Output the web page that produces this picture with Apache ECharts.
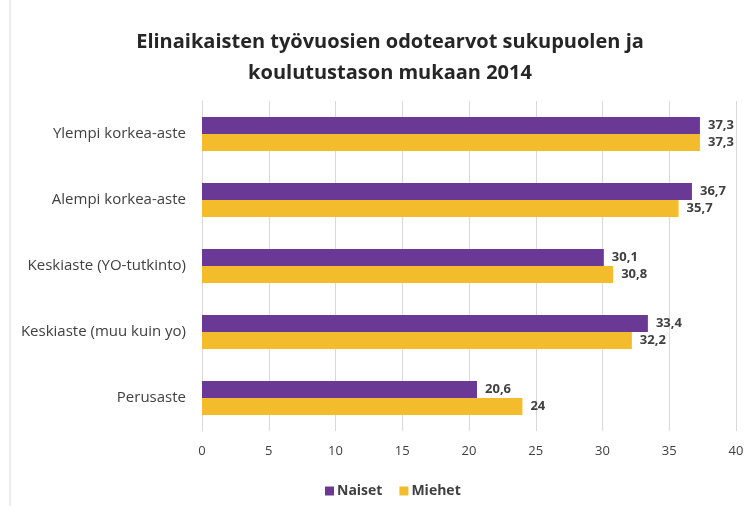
<!DOCTYPE html>
<html><head><meta charset="utf-8">
<script src="https://cdn.jsdelivr.net/npm/echarts@6/dist/echarts.min.js"></script>
<style>html,body{margin:0;padding:0;background:#fff}#c{width:750px;height:506px}</style>
</head><body><div id="c"></div>
<script>
const categories = ['Ylempi korkea-aste','Alempi korkea-aste','Keskiaste (YO-tutkinto)','Keskiaste (muu kuin yo)','Perusaste'];
const naiset = [37.3, 36.7, 30.1, 33.4, 20.6];
const miehet = [37.3, 35.7, 30.8, 32.2, 24];
const xTicks = [0,5,10,15,20,25,30,35,40];
const fmt = v => String(v).replace('.', ',');
const chart = echarts.init(document.getElementById('c'));
const font = 'Open Sans, Noto Sans, sans-serif';
chart.setOption({
  animation: false,
  title: {
    text: 'Elinaikaisten työvuosien odotearvot sukupuolen ja\nkoulutustason mukaan 2014',
    left: 385, top: 22, textAlign: 'center',
    textStyle: {fontSize: 20, fontWeight: 'bold', color: '#262626', fontFamily: font, lineHeight: 31}
  },
  graphic: [{type:'line', shape:{x1:10,y1:0,x2:10,y2:506}, style:{stroke:'#d9d9d9', lineWidth:1}}],
  legend: {
    data: ['Naiset','Miehet'], left: 320, top: 479, itemWidth: 9, itemHeight: 9, itemGap: 17,
    icon: 'rect',
    textStyle: {fontSize: 14, fontWeight: 'bold', color: '#404040', fontFamily: font, padding:[0,0,0,-2]}
  },
  grid: {left: 202, right: 14, top: 101, bottom: 75, containLabel: false},
  xAxis: {
    type: 'value', min: 0, max: 40, interval: 5,
    axisLine: {show: false}, axisTick: {show: false},
    splitLine: {lineStyle: {color: '#d9d9d9'}},
    axisLabel: {fontSize: 13, color: '#404040', fontFamily: font, margin: 14,
      formatter: v => xTicks.includes(v) ? String(v) : ''}
  },
  yAxis: {
    type: 'category', data: categories, inverse: true,
    axisLine: {show: true, lineStyle: {color: '#d9d9d9'}}, axisTick: {show: false},
    axisLabel: {fontSize: 15, color: '#404040', fontFamily: font, margin: 16}
  },
  series: [
    {name: 'Naiset', type: 'bar', data: naiset, barWidth: 17, barGap: '0%', barCategoryGap: '48%',
     itemStyle: {color: '#6A3996'},
     label: {show: true, position: 'right', distance: 8, formatter: p => fmt(p.value),
       fontSize: 13, fontWeight: 'bold', color: '#404040', fontFamily: font}},
    {name: 'Miehet', type: 'bar', data: miehet, barWidth: 17, barGap: '0%',
     itemStyle: {color: '#F2BC2D'},
     label: {show: true, position: 'right', distance: 8, formatter: p => fmt(p.value),
       fontSize: 13, fontWeight: 'bold', color: '#404040', fontFamily: font}}
  ]
});
</script></body></html>
